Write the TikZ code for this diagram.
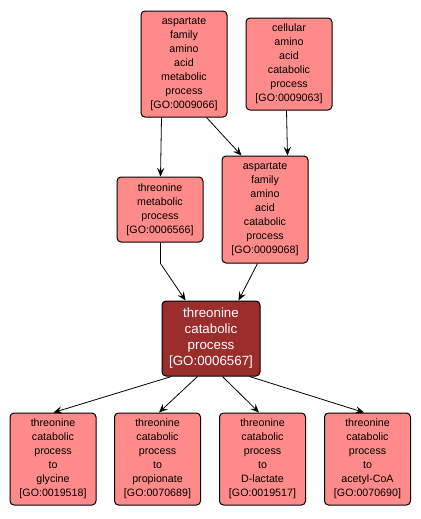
\documentclass[tikz,border=0pt]{standalone}
\usepackage{fontspec}
\setmainfont{Liberation Sans}
\usetikzlibrary{arrows.meta,calc}
\definecolor{termPink}{RGB}{255,138,138}
\definecolor{termRed}{RGB}{155,45,45}
\tikzset{every picture/.style={line width=0.75pt}}
\tikzset{
  term/.style={draw, fill=termPink, rounded corners=3pt, align=center, inner sep=0pt, minimum width=64.5pt, font=\fontsize{8}{10.5}\selectfont},
  focus/.style={term, fill=termRed, text=white, minimum width=73.5pt, font=\fontsize{10}{12}\selectfont},
  link/.style={-{Stealth[length=6.5pt,width=5.5pt,inset=2.5pt]}, line width=0.6pt}
}
\begin{document}
\begin{tikzpicture}[x=0.75pt,y=0.75pt,yscale=-1,xscale=1]
\useasboundingbox (0,0) rectangle (421,519);

% Term: aspartate family amino acid metabolic process
\node [term, minimum height=79.5pt] (aspmet) at (184,64) {aspartate\\family\\amino\\acid\\metabolic\\process\\{[GO:0009066]}};
% Term: cellular amino acid catabolic process
\node [term, minimum height=69pt] (aacat) at (289,64) {cellular\\amino\\acid\\catabolic\\process\\{[GO:0009063]}};
% Term: threonine metabolic process
\node [term, minimum height=48.75pt] (thrmet) at (160,209.5) {threonine\\metabolic\\process\\{[GO:0006566]}};
% Term: aspartate family amino acid catabolic process
\node [term, minimum height=80.25pt] (aspcat) at (265,209.5) {aspartate\\family\\amino\\acid\\catabolic\\process\\{[GO:0009068]}};
% Term: threonine catabolic process
\node [focus, minimum height=56.25pt] (thrcat) at (211,338.5) {threonine\\catabolic\\process\\{[GO:0006567]}};
% Terms: threonine catabolic process to ...
\node [term, minimum height=69pt] (glycine) at (53,459) {threonine\\catabolic\\process\\to\\glycine\\{[GO:0019518]}};
\node [term, minimum height=69pt] (propion) at (157.5,459) {threonine\\catabolic\\process\\to\\propionate\\{[GO:0070689]}};
\node [term, minimum height=69pt] (lactate) at (262.5,459) {threonine\\catabolic\\process\\to\\D-lactate\\{[GO:0019517]}};
\node [term, minimum height=69pt] (acetyl) at (367.5,459) {threonine\\catabolic\\process\\to\\acetyl-CoA\\{[GO:0070690]}};

% Links
\draw [link] ($(aspmet.south west)+(21,0)$) -- ($(thrmet.north west)+(44,0)$);
\draw [link] ($(aspmet.south west)+(66,0)$) -- ($(aspcat.north west)+(20,0)$);
\draw [link] ($(aacat.south west)+(41,0)$) -- ($(aspcat.north east)+(-21,0)$);
\draw [link] ($(thrmet.south west)+(44,0)$) -- ++(0,21) -- ($(thrcat.north west)+(24,0)$);
\draw [link] ($(aspcat.south west)+(36,0)$) -- ($(thrcat.north east)+(-22,0)$);
\draw [link] ($(thrcat.south west)+(10,0)$) -- ($(glycine.north west)+(44,0)$);
\draw [link] ($(thrcat.south west)+(36,0)$) -- ($(propion.north west)+(45,0)$);
\draw [link] ($(thrcat.south west)+(61,0)$) -- ($(lactate.north west)+(40,0)$);
\draw [link] ($(thrcat.south west)+(88,0)$) -- ($(acetyl.north west)+(40,0)$);

\end{tikzpicture}
\end{document}
